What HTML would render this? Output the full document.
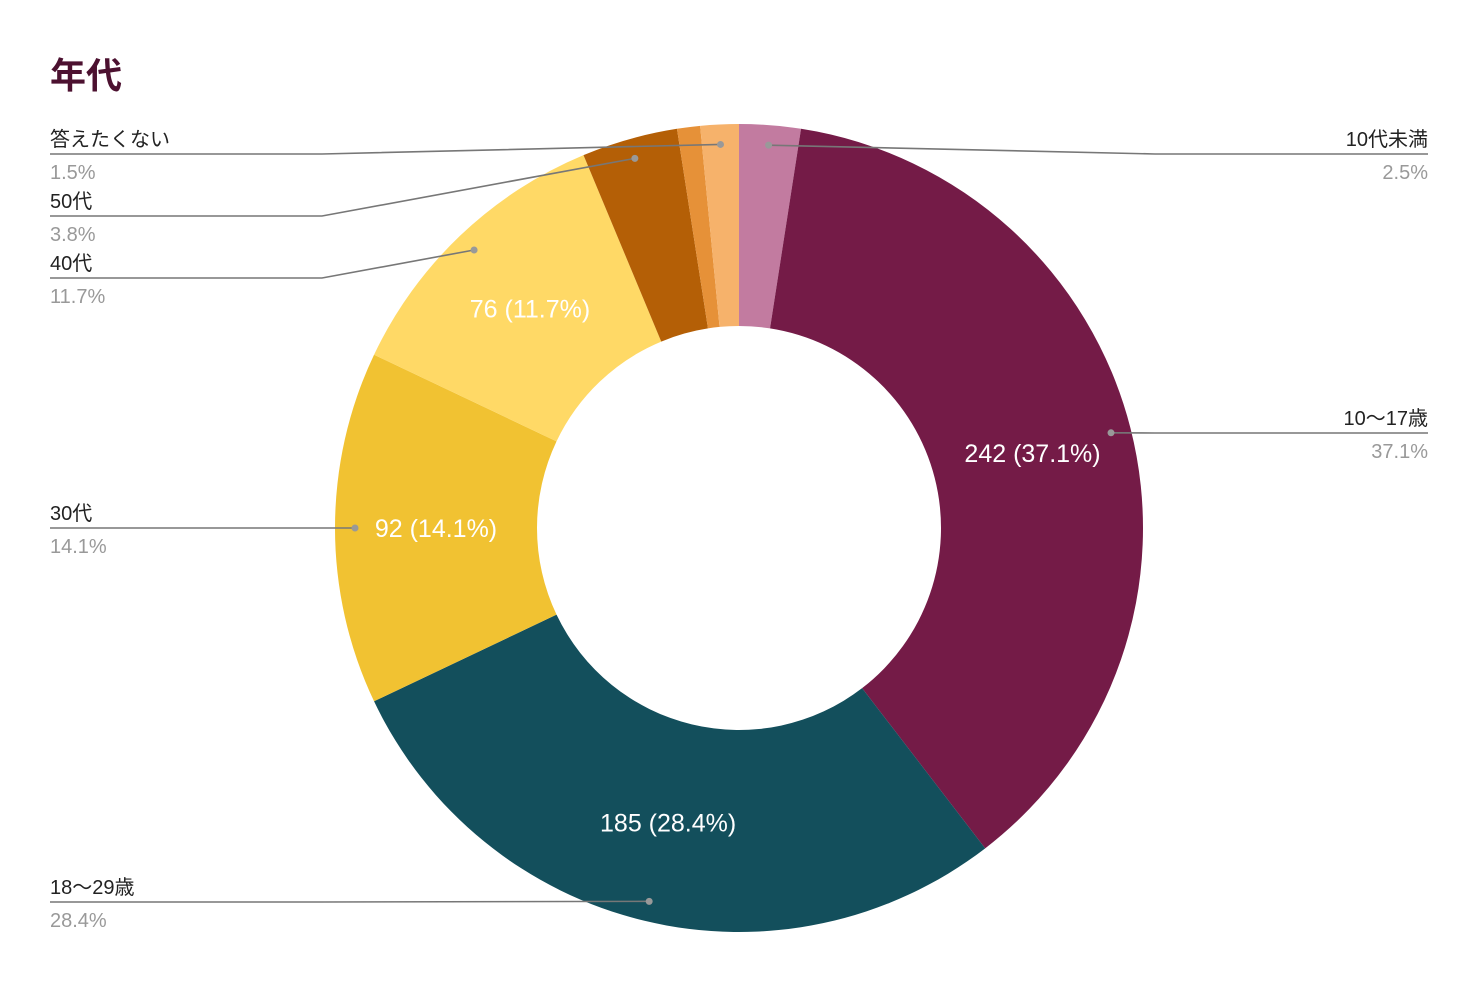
<!DOCTYPE html>
<html><head><meta charset="utf-8">
<style>
html,body{margin:0;padding:0;background:#fff;}
body{width:1478px;height:980px;overflow:hidden;font-family:"Liberation Sans","Noto Sans CJK JP",sans-serif;}
svg text{font-family:"Liberation Sans","Noto Sans CJK JP",sans-serif;}
</style></head>
<body>
<svg id="chart" width="1478" height="980" xmlns="http://www.w3.org/2000/svg">
<rect width="1478" height="980" fill="#fff"/>
<text x="50" y="88" font-size="36" font-weight="bold" fill="#4c1130">年代</text>
</svg>
<script>
const categories = ["10代未満","10～17歳","18～29歳","30代","40代","50代","60代","答えたくない"];
const values = [16,242,185,92,76,25,6,10];
const percentLabels = ["2.5%","37.1%","28.4%","14.1%","11.7%","3.8%","0.9%","1.5%"];
const colors = ["#c27ba0","#741b47","#134f5c","#f1c232","#ffd966","#b45f06","#e69138","#f6b26b"];
// layout only: label row y (null = no outside label)
const labelRowY = [154,433,902,528,278,216,null,154];

const svg = document.getElementById('chart');
const NS = "http://www.w3.org/2000/svg";
const cx = 739, cy = 528, R = 404, r = 202, dotR = 384;
const total = values.reduce((a,b)=>a+b,0);
function pt(angDeg, rad){const a=angDeg*Math.PI/180;return [cx+rad*Math.sin(a), cy-rad*Math.cos(a)];}
function mk(tag, attrs){const e=document.createElementNS(NS,tag);for(const k in attrs)e.setAttribute(k,attrs[k]);svg.appendChild(e);return e;}

let start = 0;
const mids = [];
values.forEach((v,i)=>{
  const sweep = v/total*360, end = start+sweep;
  const [x1,y1]=pt(start,R),[x2,y2]=pt(end,R),[x3,y3]=pt(end,r),[x4,y4]=pt(start,r);
  const large = sweep>180?1:0;
  const p = mk('path',{d:`M${x1},${y1} A${R},${R} 0 ${large} 1 ${x2},${y2} L${x3},${y3} A${r},${r} 0 ${large} 0 ${x4},${y4} Z`,fill:colors[i]});
  
  
  mids.push(start+sweep/2);
  start = end;
});

// inside labels
values.forEach((v,i)=>{
  const pct = v/total*100;
  if (pct < 5) return;
  const [x,y] = pt(mids[i], (R+r)/2);
  const t = mk('text',{x:x,y:y+9,'text-anchor':'middle','font-size':25,fill:'#fff'});
  t.textContent = v+' ('+percentLabels[i]+')';
  
  
});

// outside labels with leaders
values.forEach((v,i)=>{
  const ly = labelRowY[i];
  if (ly === null) return;
  const [dx,dy] = pt(mids[i], dotR);
  const right = dx > cx;
  const edge = right ? 1428 : 50, elbow = right ? 1155 : 322;
  const ln = mk('polyline',{points:`${dx},${dy} ${elbow},${ly} ${edge},${ly}`,fill:'none',stroke:'#777','stroke-width':1.6});
  
  
  const d = mk('circle',{cx:dx,cy:dy,r:3.5,fill:'#999'});
  
  
  const anchor = right ? 'end' : 'start';
  const t1 = mk('text',{x:edge,y:ly-8,'text-anchor':anchor,'font-size':20,fill:'#222'});
  t1.textContent = categories[i];
  
  
  const t2 = mk('text',{x:edge,y:ly+25,'text-anchor':anchor,'font-size':20,fill:'#999'});
  t2.textContent = percentLabels[i];
  
  
});
</script>
</body></html>
